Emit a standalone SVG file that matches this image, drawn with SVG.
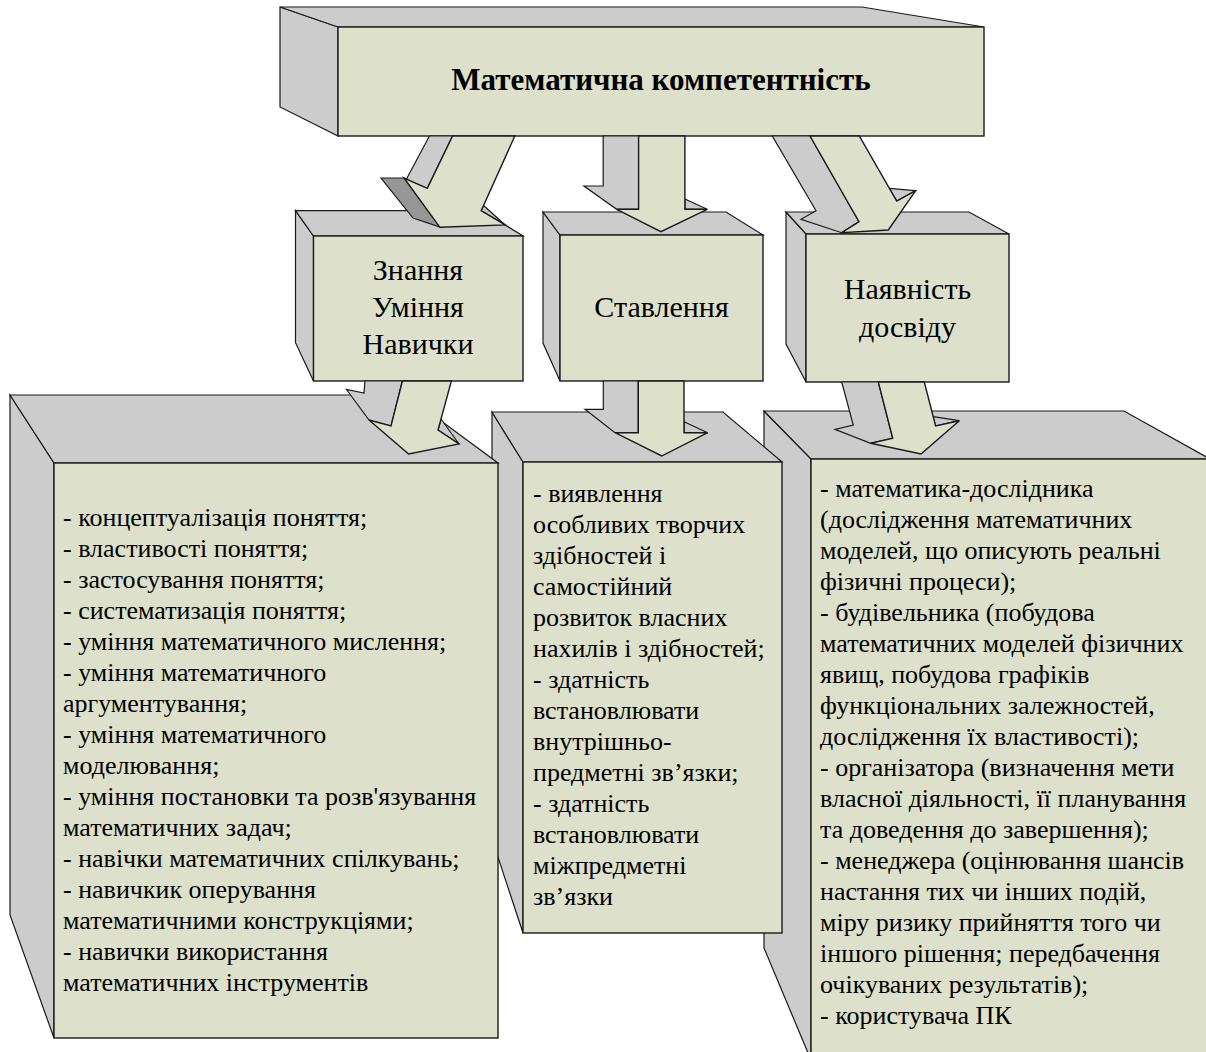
<svg xmlns="http://www.w3.org/2000/svg" width="1206" height="1052" viewBox="0 0 1206 1052">
<style>
.side{fill:#cccccc;stroke:#1a1a1a;stroke-width:1.2;stroke-linejoin:miter}
.dark{fill:#969696;stroke:#1a1a1a;stroke-width:1.2}
.face{fill:#dde0ca;stroke:#1a1a1a;stroke-width:1.4}
.t{font-family:'Liberation Serif','Times New Roman',serif;fill:#000}
.body{font-size:26px}
.lbl{font-size:30px;text-anchor:middle}
.title{font-size:31px;font-weight:bold;text-anchor:middle}
</style>
<rect width="1206" height="1052" fill="#ffffff"/>

<g id="node-main">
<polygon class="side" points="280,7 338,27 338,136 280,107"/>
<polygon class="side" points="280,7 862,7 984,27 338,27"/>
<rect class="face" x="338" y="27" width="646" height="109"/>
<text class="t title" font-family="Liberation Serif, serif" x="661" y="90">Математична компетентність</text>
</g>

<g id="node-znannya">
<polygon class="side" points="295.5,210.7 313.5,236 313.5,381 295.5,342.7"/>
<polygon class="side" points="295.5,210.7 482,210.7 523,236 313.5,236"/>
<rect class="face" x="313.5" y="236" width="209.5" height="145"/>
<text class="t lbl" font-family="Liberation Serif, serif"><tspan x="418" y="280">Знання</tspan><tspan x="418" y="317">Уміння</tspan><tspan x="418" y="354">Навички</tspan></text>
</g>

<g id="node-stavlennya">
<polygon class="side" points="543,212 560,235 560,381 543,343"/>
<polygon class="side" points="543,212 726,212 763,235 560,235"/>
<rect class="face" x="560" y="235" width="203" height="146"/>
<text class="t lbl" font-family="Liberation Serif, serif" x="661.5" y="317">Ставлення</text>
</g>

<g id="node-dosvid">
<polygon class="side" points="786,212 806,234 806,382 786,344"/>
<polygon class="side" points="786,212 969,212 1009,234 806,234"/>
<rect class="face" x="806" y="234" width="203" height="148"/>
<text class="t lbl" font-family="Liberation Serif, serif"><tspan x="907.5" y="299">Наявність</tspan><tspan x="907.5" y="337">досвіду</tspan></text>
</g>

<g id="node-list-dosvid">
<polygon class="side" points="764,411 811,459 811,1060 764,948"/>
<polygon class="side" points="764,411 1124,411 1210,459 811,459"/>
<rect class="face" x="811" y="459" width="400" height="610"/>
<text class="t body" font-family="Liberation Serif, serif">
<tspan x="820" y="497">- математика-дослідника</tspan>
<tspan x="820" y="528">(дослідження математичних</tspan>
<tspan x="820" y="559">моделей, що описують реальні</tspan>
<tspan x="820" y="590">фізичні процеси);</tspan>
<tspan x="820" y="621">- будівельника (побудова</tspan>
<tspan x="820" y="652">математичних моделей фізичних</tspan>
<tspan x="820" y="683">явищ, побудова графіків</tspan>
<tspan x="820" y="714">функціональних залежностей,</tspan>
<tspan x="820" y="745">дослідження їх властивості);</tspan>
<tspan x="820" y="776">- організатора (визначення мети</tspan>
<tspan x="820" y="807">власної діяльності, її планування</tspan>
<tspan x="820" y="838">та доведення до завершення);</tspan>
<tspan x="820" y="869">- менеджера (оцінювання шансів</tspan>
<tspan x="820" y="900">настання тих чи інших подій,</tspan>
<tspan x="820" y="931">міру ризику прийняття того чи</tspan>
<tspan x="820" y="962">іншого рішення; передбачення</tspan>
<tspan x="820" y="993">очікуваних результатів);</tspan>
<tspan x="820" y="1024">- користувача ПК</tspan>
</text>
</g>

<g id="node-list-stavlennya">
<polygon class="side" points="492,412 523,462 523,933 492,839"/>
<polygon class="side" points="492,412 723,412 782,462 523,462"/>
<rect class="face" x="523" y="462" width="259" height="471"/>
<text class="t body" font-family="Liberation Serif, serif">
<tspan x="533" y="502">- виявлення</tspan>
<tspan x="533" y="533">особливих творчих</tspan>
<tspan x="533" y="564">здібностей і</tspan>
<tspan x="533" y="595">самостійний</tspan>
<tspan x="533" y="626">розвиток власних</tspan>
<tspan x="533" y="657">нахилів і здібностей;</tspan>
<tspan x="533" y="688">- здатність</tspan>
<tspan x="533" y="719">встановлювати</tspan>
<tspan x="533" y="750">внутрішньо-</tspan>
<tspan x="533" y="781">предметні зв’язки;</tspan>
<tspan x="533" y="812">- здатність</tspan>
<tspan x="533" y="843">встановлювати</tspan>
<tspan x="533" y="874">міжпредметні</tspan>
<tspan x="533" y="905">зв’язки</tspan>
</text>
</g>

<g id="node-list-znannya">
<polygon class="side" points="10,395 54,463 54,1038 10,915"/>
<polygon class="side" points="10,395 406,395 498,463 54,463"/>
<rect class="face" x="54" y="463" width="444" height="575"/>
<text class="t body" font-family="Liberation Serif, serif">
<tspan x="63" y="526">- концептуалізація поняття;</tspan>
<tspan x="63" y="557">- властивості поняття;</tspan>
<tspan x="63" y="588">- застосування поняття;</tspan>
<tspan x="63" y="619">- систематизація поняття;</tspan>
<tspan x="63" y="650">- уміння математичного мислення;</tspan>
<tspan x="63" y="681">- уміння математичного</tspan>
<tspan x="63" y="712">аргументування;</tspan>
<tspan x="63" y="743">- уміння математичного</tspan>
<tspan x="63" y="774">моделювання;</tspan>
<tspan x="63" y="805">- уміння постановки та розв'язування</tspan>
<tspan x="63" y="836">математичних задач;</tspan>
<tspan x="63" y="867">- навічки математичних спілкувань;</tspan>
<tspan x="63" y="898">- навичкик оперування</tspan>
<tspan x="63" y="929">математичними конструкціями;</tspan>
<tspan x="63" y="960">- навички використання</tspan>
<tspan x="63" y="991">математичних інструментів</tspan>
</text>
</g>

<g id="connectors">
<g id="arrow-main-znannya">
<polygon class="side" points="429.4,136 452.6,136 427.3,188.3 406,180"/>
<polygon class="dark" points="381,178 404,178 440,227 413,218"/>
<polygon class="side" points="483.5,205.5 505.2,225 481.2,210.7"/>
<polygon class="face" points="452.6,136 514.8,136 481.2,210.7 505.2,225 439.9,227.3 404,178 427.3,188.3"/>
</g>
<g id="arrow-main-stavlennya">
<polygon class="side" points="603.2,136 638.6,136 638.6,209.3 616.7,209.3 583.9,186 603.2,186"/>
<polygon class="side" points="684.9,199 707.2,209.3 684.9,209.3"/>
<polygon class="face" points="638.6,136 684.9,136 684.9,209.3 707.2,209.3 660.9,231.7 616.7,209.3 638.6,209.3"/>
</g>
<g id="arrow-main-dosvid">
<polygon class="side" points="772.3,136 810,136 859,221.7 841.7,232.7 801,219.3 816,210.7"/>
<polygon class="side" points="889.4,188.3 915.7,190.7 896.7,201"/>
<polygon class="face" points="810,136 859.3,136 896.7,201 915.7,190.7 888.3,230 841.7,232.7 859,221.7"/>
</g>
<g id="arrow-znannya-list">
<polygon class="side" points="365,381 402.4,381 391,426 369,420 346.5,389.5 364,393"/>
<polygon class="side" points="441,419 459,444 438,430"/>
<polygon class="face" points="402.4,381 451.4,381 438,430 459,444 408.6,454 369,420 391,426"/>
</g>
<g id="arrow-stavlennya-list">
<polygon class="side" points="603.3,381 638.3,381 638.3,432.7 615,432.7 585,409.3 603.3,409.3"/>
<polygon class="side" points="684,421.7 707.7,432.7 684,432.7"/>
<polygon class="face" points="638.3,381 684,381 684,432.7 707.7,432.7 661.7,456 615,432.7 638.3,432.7"/>
</g>
<g id="arrow-dosvid-list">
<polygon class="side" points="841.7,382 878.3,382 892.7,438.3 870.7,443.3 835,429.3 853.3,425"/>
<polygon class="side" points="933,416.7 959.3,420.7 935.6,426"/>
<polygon class="face" points="878.3,382 924.3,382 935.6,426 959.3,420.7 921,454 870.7,443.3 892.7,438.3"/>
</g>
</g>
</svg>
